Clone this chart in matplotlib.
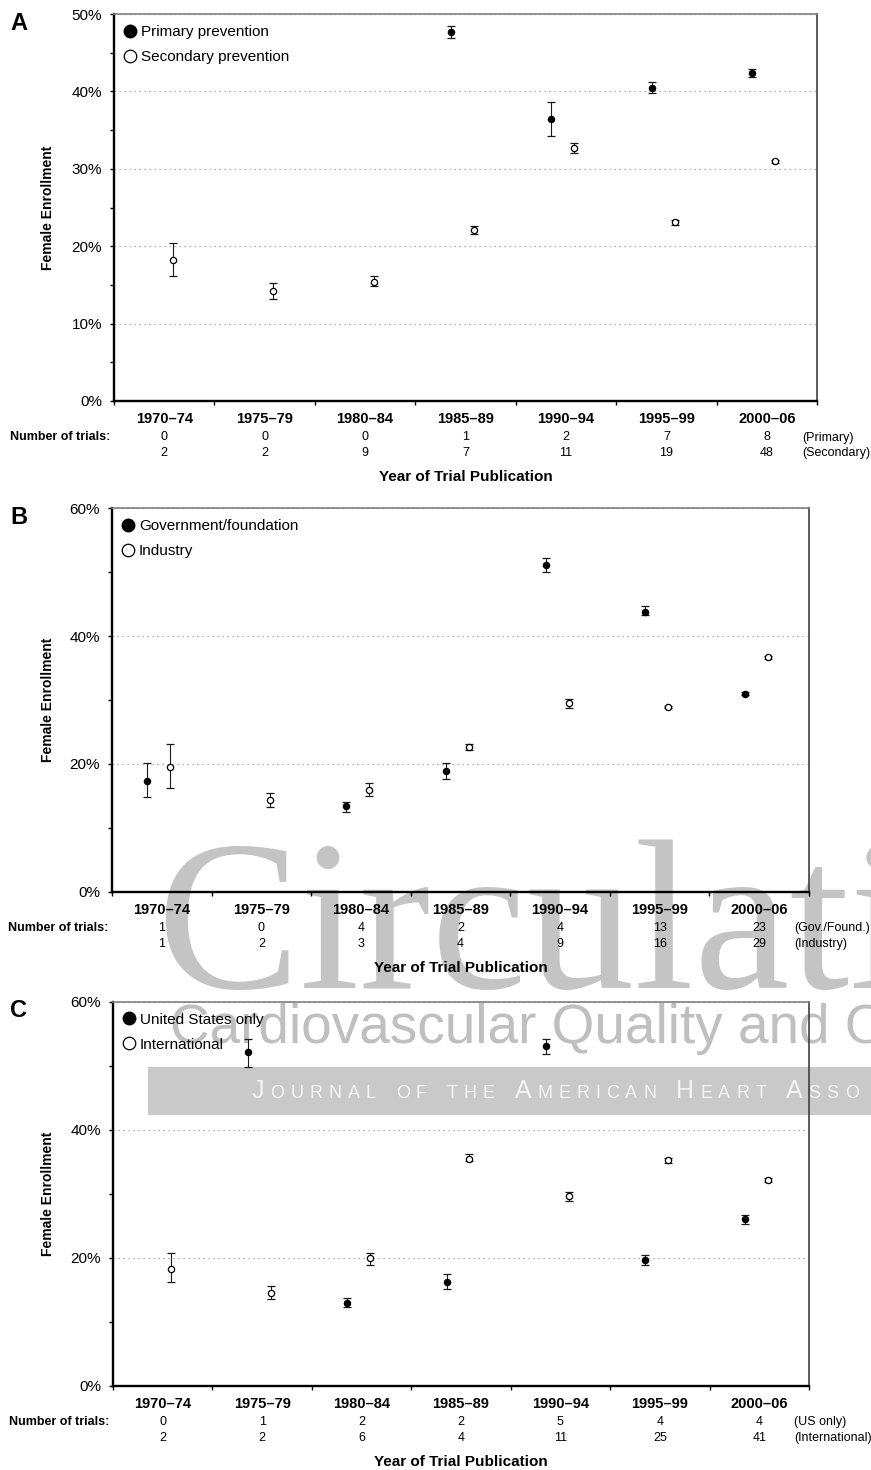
import matplotlib
matplotlib.use('Agg')
import matplotlib.pyplot as plt
from matplotlib.lines import Line2D
from matplotlib.patches import Rectangle
from matplotlib.ticker import MultipleLocator, PercentFormatter
import numpy as np

nan = np.nan

periods = ['1970–74', '1975–79', '1980–84', '1985–89', '1990–94', '1995–99', '2000–06']

# panel A: prevention type (percent women, lower / upper limit)
primary_val = [nan, nan, nan, 47.7, 36.4, 40.5, 42.4]
primary_lo = [nan, nan, nan, 46.9, 34.2, 39.8, 41.9]
primary_hi = [nan, nan, nan, 48.4, 38.6, 41.2, 42.9]
secondary_val = [18.2, 14.2, 15.4, 22.1, 32.7, 23.1, 31.0]
secondary_lo = [16.1, 13.2, 14.8, 21.6, 32.0, 22.8, 30.8]
secondary_hi = [20.4, 15.3, 16.1, 22.6, 33.3, 23.4, 31.2]
primary_n = [0, 0, 0, 1, 2, 7, 8]
secondary_n = [2, 2, 9, 7, 11, 19, 48]

# panel B: funding source
gov_val = [17.3, nan, 13.4, 18.9, 51.2, 43.8, 31.0]
gov_lo = [14.8, nan, 12.5, 17.7, 50.0, 43.3, 30.8]
gov_hi = [20.2, nan, 14.0, 20.1, 52.2, 44.7, 31.2]
ind_val = [19.5, 14.35, 15.9, 22.6, 29.5, 28.9, 36.7]
ind_lo = [16.3, 13.3, 15.0, 22.2, 28.8, 28.7, 36.5]
ind_hi = [23.2, 15.4, 17.0, 23.2, 30.2, 29.1, 36.9]
gov_n = [1, 0, 4, 2, 4, 13, 23]
ind_n = [1, 2, 3, 4, 9, 16, 29]

# panel C: trial location
us_val = [nan, 52.1, 12.9, 16.25, 53.1, 19.6, 26.0]
us_lo = [nan, 49.8, 12.25, 15.1, 51.9, 18.8, 25.2]
us_hi = [nan, 54.1, 13.65, 17.4, 54.2, 20.4, 26.7]
intl_val = [18.3, 14.5, 19.9, 35.5, 29.6, 35.3, 32.1]
intl_lo = [16.25, 13.5, 18.8, 35.1, 28.9, 34.8, 31.8]
intl_hi = [20.7, 15.6, 20.7, 36.2, 30.3, 35.6, 32.5]
us_n = [0, 1, 2, 2, 5, 4, 4]
intl_n = [2, 2, 6, 4, 11, 25, 41]

W, H = 871, 1470
PT = 0.72  # points per pixel at dpi 100

plt.rcParams['font.family'] = ['Liberation Sans', 'DejaVu Sans']


def fx(px):
    return px / W


def fy(py):
    return 1 - py / H


def below(ax, xy, coords, dx, dy, s, **kw):
    ax.annotate(s, xy=xy, xycoords=coords, xytext=(dx * PT, -dy * PT),
                textcoords='offset points', va='center', annotation_clip=False, **kw)


def panel(fig, box, letter, ymax, major, s1, s2, labels, n1, n2, rows):
    left, top, right, bottom = box
    ax = fig.add_axes([fx(left), fy(bottom), fx(right - left), (bottom - top) / H])
    ax.set_facecolor('none')
    x = np.arange(len(periods))

    for (v, lo, hi), off, face in [(s1, -0.145, 'black'), (s2, 0.085, 'white')]:
        v = np.array(v)
        lo = np.array(lo)
        hi = np.array(hi)
        m = ~np.isnan(v)
        ax.errorbar(x[m] + off, v[m], yerr=[v[m] - lo[m], hi[m] - v[m]], fmt='o',
                    ms=4.5, mfc=face, mec='black', mew=0.9, ecolor='#1a1a1a',
                    elinewidth=0.8, capsize=2.9, capthick=2.2, zorder=3)

    ax.set_xlim(-0.5, len(periods) - 0.5)
    ax.set_xticks(np.arange(-0.5, len(periods), 1))
    ax.set_xticklabels([])
    ax.tick_params(axis='x', direction='out', length=3, width=1)

    ax.set_ylim(0, ymax)
    ax.yaxis.set_major_locator(MultipleLocator(major))
    ax.yaxis.set_minor_locator(MultipleLocator(major / 2))
    ax.yaxis.set_major_formatter(PercentFormatter(decimals=0))
    ax.tick_params(axis='y', which='both', direction='out', length=3, width=1,
                   labelsize=11, pad=5.5)
    ax.yaxis.grid(True, which='major', color='#9a9a9a', linestyle=(0, (1, 3)), linewidth=0.9)
    ax.set_axisbelow(True)

    for s in ['left', 'bottom']:
        ax.spines[s].set_linewidth(1.7)
        ax.spines[s].set_color('black')
    ax.spines['top'].set_color('#808080')
    ax.spines['top'].set_linewidth(1.2)
    ax.spines['right'].set_color('#404040')
    ax.spines['right'].set_linewidth(1.2)

    ax.text((47.5 - left) / (right - left), 0.5, 'Female Enrollment', transform=ax.transAxes,
            rotation=90, ha='center', va='center', fontsize=10, fontweight='bold')

    handles = [Line2D([], [], ls='none', marker='o', ms=9, mfc='black', mec='black'),
               Line2D([], [], ls='none', marker='o', ms=9, mfc='white', mec='black', mew=0.9)]
    ax.legend(handles, labels, loc='upper left',
              bbox_to_anchor=(10 / (right - left), 1 - 11 / (bottom - top)),
              frameon=False, fontsize=11, handlelength=0.8, handletextpad=0.3,
              labelspacing=0.72, borderpad=0, borderaxespad=0)

    for i, p in enumerate(periods):
        below(ax, (i, 0), ('data', 'axes fraction'), 0, 18, p, ha='center',
              fontsize=10.5, fontweight='bold')
        below(ax, (i, 0), ('data', 'axes fraction'), 0, 36.5, str(n1[i]), ha='center', fontsize=9)
        below(ax, (i, 0), ('data', 'axes fraction'), 0, 52, str(n2[i]), ha='center', fontsize=9)
    below(ax, (0, 0), 'axes fraction', -4, 36.5, 'Number of trials:', ha='right',
          fontsize=9, fontweight='bold')
    below(ax, (1, 0), 'axes fraction', -15, 36.5, rows[0], ha='left', fontsize=9)
    below(ax, (1, 0), 'axes fraction', -15, 52, rows[1], ha='left', fontsize=9)
    below(ax, (0.5, 0), 'axes fraction', 0, 76, 'Year of Trial Publication', ha='center',
          fontsize=11, fontweight='bold')

    fig.text(fx(10), fy(top + 9), letter, fontsize=17, fontweight='bold', ha='left', va='center')
    return ax


fig = plt.figure(figsize=(W / 100, H / 100), dpi=100)

panel(fig, (114, 14, 817, 401), 'A', 50, 10,
      (primary_val, primary_lo, primary_hi), (secondary_val, secondary_lo, secondary_hi),
      ['Primary prevention', 'Secondary prevention'], primary_n, secondary_n,
      ['(Primary)', '(Secondary)'])
panel(fig, (112, 508.5, 809, 891.7), 'B', 60, 20,
      (gov_val, gov_lo, gov_hi), (ind_val, ind_lo, ind_hi),
      ['Government/foundation', 'Industry'], gov_n, ind_n,
      ['(Gov./Found.)', '(Industry)'])
panel(fig, (113, 1001.7, 809, 1385.7), 'C', 60, 20,
      (us_val, us_lo, us_hi), (intl_val, intl_lo, intl_hi),
      ['United States only', 'International'], us_n, intl_n,
      ['(US only)', '(International)'])

# journal watermark, behind the plots
fig.text(fx(156), fy(988), 'Circulation', family=['Liberation Serif', 'DejaVu Serif'],
         fontsize=155, color='#c4c4c4', ha='left', va='baseline', zorder=-2)
fig.text(fx(170), fy(1043), 'Cardiovascular Quality and Outcomes', fontsize=39.5,
         color='#bfbfbf', ha='left', va='baseline', zorder=-2)
fig.patches.append(Rectangle((fx(148), fy(1115)), fx(W - 148), 48 / H, transform=fig.transFigure,
                             facecolor='#c9c9c9', edgecolor='none', zorder=-2))

# small caps band title, letter by letter with wide tracking (stops at the page edge)
renderer = fig.canvas.get_renderer()
xpos = 252
for word in ['Journal', 'of', 'the', 'American', 'Heart', 'Association']:
    for k, ch in enumerate(word):
        if xpos > W - 8:
            break
        size = 18 if (k == 0 and ch.isupper()) else 13
        t = fig.text(fx(xpos), fy(1098), ch.upper(), fontsize=size, color='#f4f4f4',
                     ha='left', va='baseline', zorder=-1)
        xpos += t.get_window_extent(renderer).width + 6
    xpos += 14

fig.savefig('out.png', dpi=100)
